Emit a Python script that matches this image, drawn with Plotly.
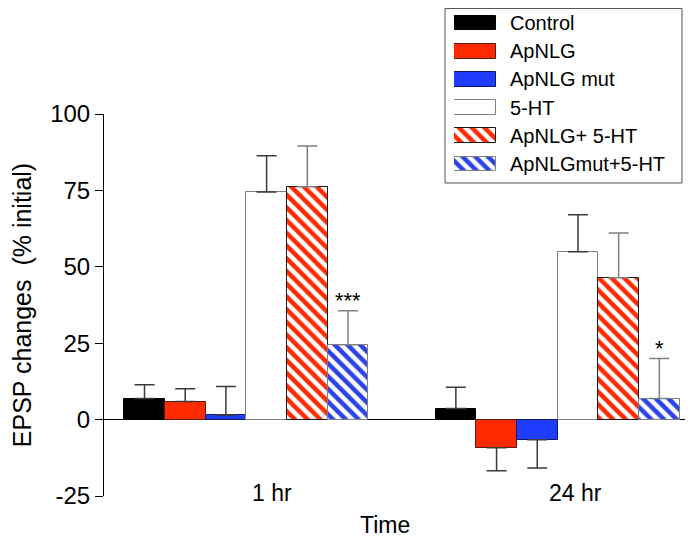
import plotly.graph_objects as go

# values (mean, SEM) for 1 hr and 24 hr
TIMES = ["1 hr", "24 hr"]
GROUPS = ["Control", "ApNLG", "ApNLG mut", "5-HT", "ApNLG+ 5-HT", "ApNLGmut+5-HT"]
control = [6.9, 3.6]
control_sem = [4.5, 7.0]
apnlg = [5.9, -9.2]
apnlg_sem = [4.2, 7.5]
apnlg_mut = [1.5, -6.6]
apnlg_mut_sem = [9.3, 9.2]
ht5 = [74.5, 54.9]
ht5_sem = [11.8, 12.1]
apnlg_ht5 = [76.2, 46.4]
apnlg_ht5_sem = [13.3, 14.7]
mut_ht5 = [24.5, 6.9]
mut_ht5_sem = [11.1, 13.1]
SIGNIF = ["***", "*"]  # over ApNLGmut+5-HT
Y_TICKS = [-25, 0, 25, 50, 75, 100]

# page has an 8px body margin, so the figure is drawn 8px smaller and
# all page-pixel positions below are shifted by that offset
OFF = 8
W, H = 694 - OFF, 542 - OFF


def px(x):
    return (x - OFF) / W


def py(y):
    return min(1.0, 1 - (y - OFF) / H)


FONT = "Arial, 'Liberation Sans', Helvetica, sans-serif"
RED = "#FF2A00"
BLUE = "#1F3CFF"
HBLUE = "#2B42E6"

# bar positions in units of one bar width
GROUP_START = [0.0, 7.65]
LABEL_X = [3.13, 10.6]

# legend rows (page pixels from top)
ROW_Y0, ROW_STEP = 23, 28.2
LEG_TOP, LEG_BOTTOM = 8.5, 183

STYLES = [
    dict(color="black", line="black", err="#3a3a3a", pattern=None),
    dict(color=RED, line="#5a1a10", err="#3a3a3a", pattern=None),
    dict(color=BLUE, line="#101a60", err="#3a3a3a", pattern=None),
    dict(color="white", line="#808080", err="#3a3a3a", pattern=None),
    dict(color="white", line="#1a1a1a", err="#808080", pattern=RED),
    dict(color="white", line="#808080", err="#808080", pattern=HBLUE),
]
SERIES = [
    (control, control_sem), (apnlg, apnlg_sem), (apnlg_mut, apnlg_mut_sem),
    (ht5, ht5_sem), (apnlg_ht5, apnlg_ht5_sem), (mut_ht5, mut_ht5_sem),
]


def _marker(st):
    m = dict(color=st["color"], line=dict(color=st["line"], width=1))
    if st["pattern"]:
        m["pattern"] = dict(shape="\\", fgcolor=st["pattern"], bgcolor="white",
                            size=9, solidity=0.5, fillmode="replace")
    return m


fig = go.Figure()

for i, (name, (vals, sem), st) in enumerate(zip(GROUPS, SERIES, STYLES)):
    xs = [g + i for g in GROUP_START]
    up = [e if v >= 0 else 0 for v, e in zip(vals, sem)]
    down = [e if v < 0 else 0 for v, e in zip(vals, sem)]
    fig.add_trace(go.Bar(
        x=xs, y=vals, width=1, name=name, showlegend=False,
        marker=_marker(st),
        error_y=dict(type="data", symmetric=False, array=up, arrayminus=down,
                     color=st["err"], thickness=1.5, width=10),
        xaxis="x", yaxis="y",
    ))

    # legend swatch drawn as a bar on a small overlay axis
    fig.add_trace(go.Bar(
        x=[1], y=[i], base=0, orientation="h", width=0.53, showlegend=False,
        marker=_marker(st), xaxis="x2", yaxis="y2", hoverinfo="skip",
    ))
    fig.add_annotation(x=px(508), y=py(ROW_Y0 + ROW_STEP * i),
                       xref="paper", yref="paper", text=name,
                       showarrow=False, xanchor="left", yanchor="middle",
                       font=dict(family=FONT, size=20, color="black"))

# significance marks over ApNLGmut+5-HT
for g, s, v, e in zip(GROUP_START, SIGNIF, mut_ht5, mut_ht5_sem):
    fig.add_annotation(x=g + 5, y=v + e - 1.5, text=s, showarrow=False,
                       xanchor="center", yanchor="bottom",
                       font=dict(family=FONT, size=22, color="black"))

# category labels and axis title
for lx, t in zip(LABEL_X, TIMES):
    fig.add_annotation(x=lx, y=py(493), xref="x", yref="paper", text=t,
                       showarrow=False, xanchor="center", yanchor="middle",
                       font=dict(family=FONT, size=23, color="black"))
fig.add_annotation(x=px(385), y=py(525), xref="paper", yref="paper",
                   text="Time", showarrow=False, xanchor="center", yanchor="middle",
                   font=dict(family=FONT, size=23, color="black"))

# legend frame
fig.add_shape(type="rect", xref="paper", yref="paper",
              x0=px(445), x1=px(682), y0=py(LEG_BOTTOM), y1=py(LEG_TOP),
              line=dict(color="#555555", width=1), fillcolor="rgba(0,0,0,0)")

fig.update_layout(
    width=W, height=H,
    margin=dict(l=0, r=0, t=0, b=0, autoexpand=False),
    paper_bgcolor="white", plot_bgcolor="white",
    barmode="overlay", bargap=0,
    font=dict(family=FONT, size=22, color="black"),
    xaxis=dict(domain=[px(104), px(685)], range=[-0.995, 13.28],
               showticklabels=False, ticks="", showline=False, automargin=False,
               showgrid=False, zeroline=False),
    yaxis=dict(domain=[py(496), py(114)], range=[-25, 100],
               tickvals=Y_TICKS, ticktext=[str(t) for t in Y_TICKS],
               ticks="outside", ticklen=8, automargin=False,
               tickcolor="black", showline=True, linecolor="black", linewidth=1,
               showgrid=False, zeroline=True, zerolinecolor="black", zerolinewidth=1,
               tickfont=dict(family=FONT, size=24, color="black"),
               title=dict(text="EPSP changes \u00a0(% initial)", standoff=14,
                          font=dict(family=FONT, size=25, color="black"))),
    xaxis2=dict(domain=[px(454), px(496)], range=[0, 1], visible=False,
                anchor="y2", fixedrange=True, automargin=False),
    yaxis2=dict(domain=[py(LEG_BOTTOM), py(OFF)],
                range=[(LEG_BOTTOM - ROW_Y0) / ROW_STEP, (OFF - ROW_Y0) / ROW_STEP],
                visible=False, anchor="x2", fixedrange=True, automargin=False),
)

fig.write_html("out.html")
